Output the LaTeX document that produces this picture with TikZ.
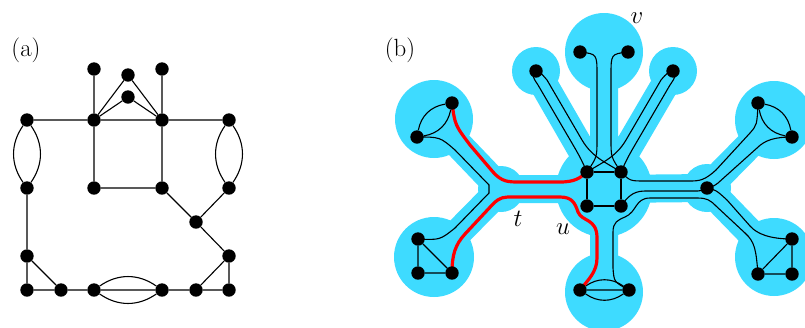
\documentclass[tikz,border=0pt]{standalone}
\definecolor{blobc}{RGB}{62,219,255}
\pgfdeclarelayer{bg}\pgfdeclarelayer{edges}\pgfsetlayers{bg,edges,main}
\begin{document}
\begin{tikzpicture}[x=1pt,y=-1pt,
 vtx/.style={circle,fill=black,inner sep=0pt,minimum size=13.4pt},
 edge/.style={line width=1.1pt,black},
 redge/.style={line width=3.2pt,red},
 band/.style={line width=28pt,blobc},
 blob/.style={fill=blobc},
 lbl/.style={font=\Huge,inner sep=0pt}]
\useasboundingbox (0,0) rectangle (805,327);
% ---------- labels
\node[lbl] (la) at (26,50) {(a)};
\node[lbl] (lb) at (400,50) {(b)};
\node[lbl] (lt) at (518,219) {$t$};
\node[lbl] (lu) at (563,229) {$u$};
\node[lbl] (lv) at (637,18) {$v$};
% ---------- (a) vertices
\node[vtx] (a1) at (94,69) {};
\node[vtx] (a2) at (128,75) {};
\node[vtx] (a3) at (162,69) {};
\node[vtx] (a4) at (128,97) {};
\node[vtx] (a5) at (27,120) {};
\node[vtx] (a6) at (94,120) {};
\node[vtx] (a7) at (162,120) {};
\node[vtx] (a8) at (229,120) {};
\node[vtx] (a9) at (27,188) {};
\node[vtx] (a10) at (94,188) {};
\node[vtx] (a11) at (162,188) {};
\node[vtx] (a12) at (229,188) {};
\node[vtx] (a13) at (196,222) {};
\node[vtx] (a14) at (27,256) {};
\node[vtx] (a15) at (229,256) {};
\node[vtx] (a16) at (27,290) {};
\node[vtx] (a17) at (61,290) {};
\node[vtx] (a18) at (94,290) {};
\node[vtx] (a19) at (162,290) {};
\node[vtx] (a20) at (196,290) {};
\node[vtx] (a21) at (229,290) {};
% ---------- (b) vertices
\node[vtx] (b1) at (452,103) {};
\node[vtx] (b2) at (417,137) {};
\node[vtx] (b3) at (418,239) {};
\node[vtx] (b4) at (418,273) {};
\node[vtx] (b5) at (452,273) {};
\node[vtx] (b6) at (536,71) {};
\node[vtx] (b7) at (580,52) {};
\node[vtx] (b8) at (628,52) {};
\node[vtx] (b9) at (673,71) {};
\node[vtx] (s1) at (587,172) {};
\node[vtx] (s2) at (621,172) {};
\node[vtx] (s3) at (587,206) {};
\node[vtx] (s4) at (621,206) {};
\node[vtx] (b10) at (580,290) {};
\node[vtx] (b11) at (629,290) {};
\node[vtx] (b12) at (707,188) {};
\node[vtx] (b13) at (758,103) {};
\node[vtx] (b14) at (792,137) {};
\node[vtx] (b15) at (792,239) {};
\node[vtx] (b16) at (758,274) {};
\node[vtx] (b17) at (792,274) {};
% ---------- (a) edges
\begin{pgfonlayer}{edges}
\draw[edge] (a1) -- (a6) (a3) -- (a7)
  (a6) -- (a2) -- (a7) (a6) -- (a4) -- (a7)
  (a5) -- (a6) -- (a7) -- (a8)
  (a6) -- (a10) -- (a11) -- (a7)
  (a11) -- (a13) -- (a12) (a13) -- (a15)
  (a9) -- (a14) -- (a16) -- (a17) -- (a18) (a14) -- (a17)
  (a18) -- (a19) -- (a20) -- (a21) -- (a15) -- (a20);
\draw[edge] (a5) to[bend left=35] (a9) (a5) to[bend right=35] (a9);
\draw[edge] (a8) to[bend left=35] (a12) (a8) to[bend right=35] (a12);
\draw[edge] (a18) to[bend left=35] (a19) (a18) to[bend right=35] (a19);
% ---------- (b) edges
\draw[edge] (b1) to[bend left=35] (b2) (b1) to[bend right=35] (b2);
\draw[edge] (b13) to[bend left=35] (b14) (b13) to[bend right=35] (b14);
\draw[edge] (b10) to[bend left=35] (b11) (b10) to[bend right=35] (b11) (b10) -- (b11);
\draw[edge] (b3) -- (b4) -- (b5) -- (b3);
\draw[edge] (b15) -- (b16) -- (b17) -- (b15);
\draw[edge] (s1) -- (s2) -- (s4) -- (s3) -- (s1);
\draw[edge] (b2.center) .. controls (440,137) .. (455,150) -- (489,185) -- (489,193)
  -- (455,228) .. controls (440,240) .. (b3.center);
\draw[edge] (b7.center) .. controls (597,54) .. (597,75) -- (597,140) .. controls (597,157) .. (s1.center);
\draw[edge] (b8.center) .. controls (611,54) .. (611,75) -- (611,140) .. controls (611,157) .. (s2.center);
\draw[edge] (b6.center) .. controls (532,76) .. (538,85) -- (576,150) .. controls (581,159) .. (s1.center);
\draw[edge] (b6.center) .. controls (541,73) .. (547,80) -- (582,140) .. controls (592,157) and (605,162) .. (s2.center);
\draw[edge] (b9.center) .. controls (676,76) .. (670,85) -- (632,150) .. controls (627,159) .. (s2.center);
\draw[edge] (b9.center) .. controls (667,73) .. (661,80) -- (626,140) .. controls (616,157) and (603,162) .. (s1.center);
\draw[edge] (s2.center) .. controls (630,181) .. (645,181) -- (690,181)
  .. controls (700,181) and (705,180) .. (716,170) -- (750,133) .. controls (757,125) .. (b13.center);
\draw[edge] (b14.center) .. controls (775,137) and (765,140) .. (757,148) -- (718,183) .. controls (714,186) .. (b12.center);
\draw[edge] (s4.center) .. controls (627,198) and (632,191) .. (645,191) -- (695,191) .. controls (700,191) .. (b12.center);
\draw[edge] (b11.center) .. controls (614,282) .. (613,268) -- (613,232)
  .. controls (613,222) and (618,220) .. (625,217) .. controls (637,212) and (635,198) .. (650,198)
  -- (697,198) .. controls (707,198) and (710,200) .. (716,206) -- (745,233)
  .. controls (755,242) and (756,250) .. (b16.center);
\draw[edge] (b12.center) .. controls (716,190) .. (727,200) -- (750,226) .. controls (757,234) and (770,239) .. (b15.center);
\draw[redge] (b1.center) .. controls (455,125) .. (470,145) -- (493,172)
  .. controls (502,182) and (508,182) .. (520,182) -- (560,182) .. controls (575,182) and (580,178) .. (s1.center);
\draw[redge] (b5.center) .. controls (452,255) and (455,245) .. (465,234) -- (493,204)
  .. controls (500,197) and (504,197) .. (512,197) -- (560,197)
  .. controls (572,197) and (575,203) .. (578,212) .. controls (582,222) and (597,218) .. (597,238)
  -- (597,258) .. controls (597,272) and (588,280) .. (b10.center);
\end{pgfonlayer}
% ---------- blobs
\begin{pgfonlayer}{bg}
\coordinate (ct) at (501,189);
\coordinate (cc) at (604,189);
\coordinate (cr) at (707,188);
\coordinate (clu) at (434,119);
\coordinate (cll) at (434,257);
\coordinate (ctop) at (604,52);
\coordinate (ctl) at (536,71);
\coordinate (ctr) at (673,71);
\coordinate (cbot) at (604,292);
\coordinate (cru) at (774,120);
\coordinate (crl) at (774,257);
\draw[band] (ct) -- (clu) (ct) -- (cll) (ct) -- (cc) (cc) -- (ctop) (cc) -- (ctl) (cc) -- (ctr)
  (cc) -- (cbot) (cc) -- (cr) (cr) -- (cru) (cr) -- (crl);
\fill[blob] (ct) circle[radius=23] (cc) circle[radius=48] (cr) circle[radius=24]
  (clu) circle[radius=39] (cll) circle[radius=40] (ctop) circle[radius=39]
  (ctl) circle[radius=24] (ctr) circle[radius=24] (cbot) circle[radius=39]
  (cru) circle[radius=39] (crl) circle[radius=39];
\end{pgfonlayer}
\end{tikzpicture}
\end{document}
